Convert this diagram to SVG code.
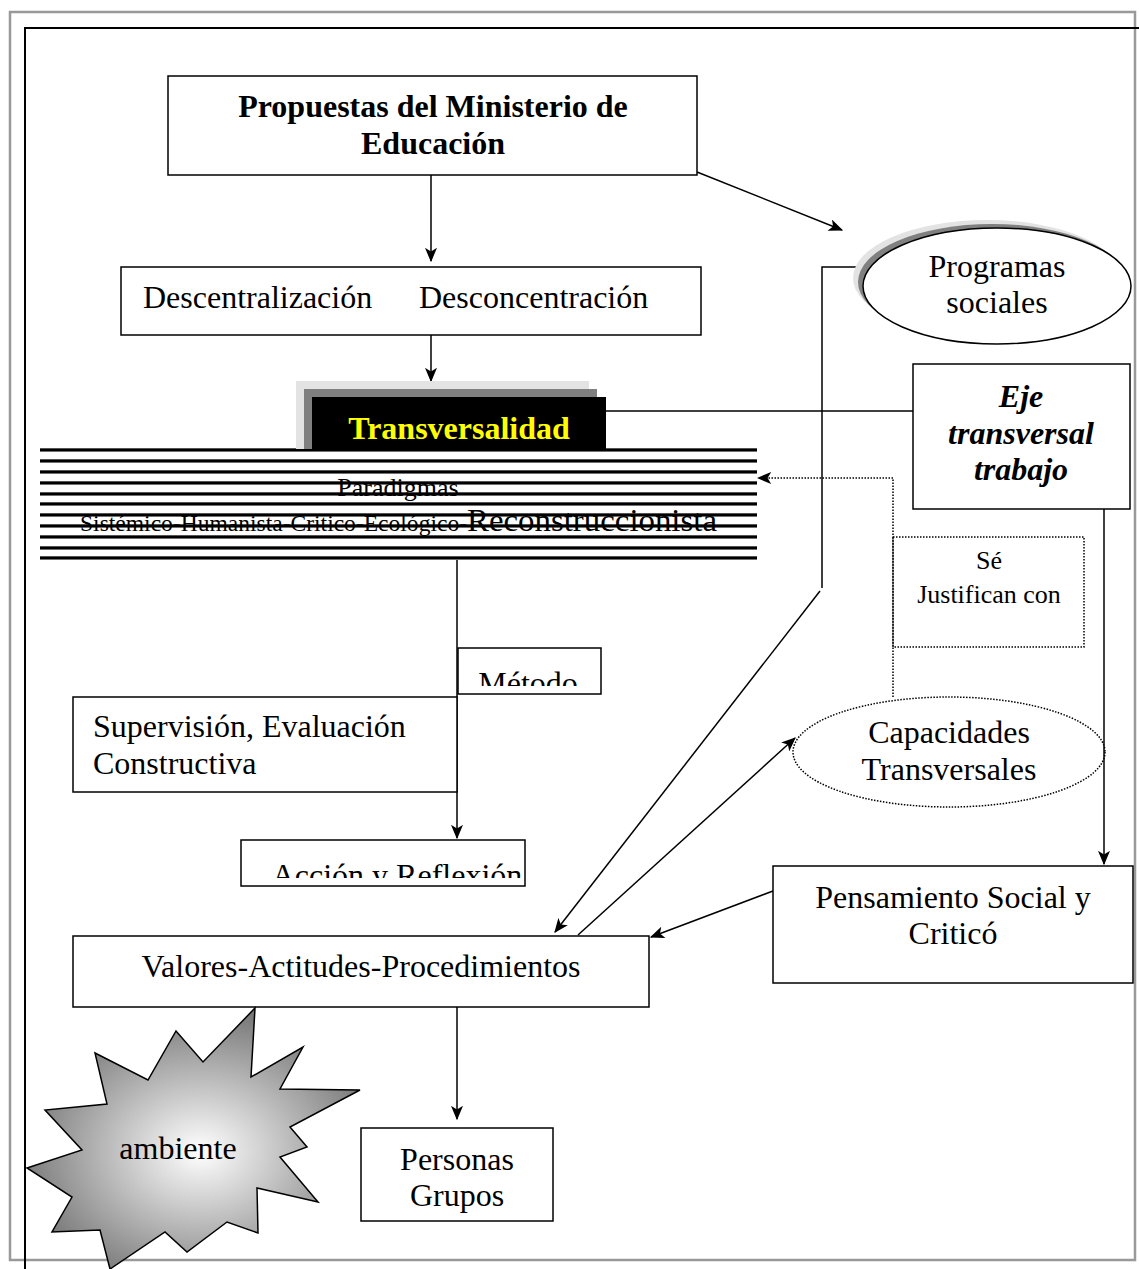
<svg xmlns="http://www.w3.org/2000/svg" width="1139" height="1269" viewBox="0 0 1139 1269">
<defs>
<style>
.t{font-family:"Liberation Serif","Times New Roman",serif;fill:#000;font-size:32px}
.box{fill:#fff;stroke:#000;stroke-width:1.5}
.ln{fill:none;stroke:#000;stroke-width:1.5}
.dot{fill:none;stroke:#000;stroke-width:1.5;stroke-dasharray:1.5 1.5}
</style>
<marker id="ah" viewBox="0 0 12 10" refX="11" refY="5" markerWidth="15" markerHeight="12" markerUnits="userSpaceOnUse" orient="auto">
<path d="M0,0 L12,5 L0,10 L3,5 Z" fill="#000"/>
</marker>
<radialGradient id="starg" cx="0.52" cy="0.55" r="0.55">
<stop offset="0" stop-color="#ffffff"/>
<stop offset="0.35" stop-color="#d0d0d0"/>
<stop offset="1" stop-color="#777777"/>
</radialGradient>
<linearGradient id="stripe" x1="0" y1="0" x2="0" y2="1">
<stop offset="0" stop-color="#909090"/>
<stop offset="0.3" stop-color="#000"/>
<stop offset="0.7" stop-color="#000"/>
<stop offset="1" stop-color="#c0c0c0"/>
</linearGradient>
<clipPath id="cm"><rect x="458" y="648" width="143" height="38"/></clipPath>
<clipPath id="ca"><rect x="241" y="840" width="284" height="38"/></clipPath>
</defs>
<rect width="1139" height="1269" fill="#fff"/>
<rect x="10" y="12" width="1125" height="1248" fill="none" stroke="#999" stroke-width="2.5"/>
<path d="M1139,28 H25 V1269" fill="none" stroke="#000" stroke-width="2"/>

<g id="connectors">
<line class="ln" x1="431" y1="175" x2="431" y2="261" marker-end="url(#ah)"/>
<line class="ln" x1="431" y1="335" x2="431" y2="381" marker-end="url(#ah)"/>
<line class="ln" x1="697" y1="172" x2="842" y2="230" marker-end="url(#ah)"/>
<line class="ln" x1="606" y1="411" x2="913" y2="411"/>
<polyline class="ln" points="862,267 822,267 822,588"/>
<line class="ln" x1="820" y1="591" x2="555" y2="932" marker-end="url(#ah)"/>
<line class="ln" x1="578" y1="935" x2="795" y2="738" marker-end="url(#ah)"/>
<line class="ln" x1="1104" y1="509" x2="1104" y2="864" marker-end="url(#ah)"/>
<line class="ln" x1="773" y1="891" x2="651" y2="937" marker-end="url(#ah)"/>
<line class="ln" x1="457" y1="557" x2="457" y2="838" marker-end="url(#ah)"/>
<line class="ln" x1="457" y1="1007" x2="457" y2="1119" marker-end="url(#ah)"/>
<polyline class="dot" points="893,697 893,478 758,478" marker-end="url(#ah)"/>
</g>

<g id="propuestas">
<rect class="box" x="168" y="76" width="529" height="99"/>
<text class="t" x="433" y="117" font-weight="bold" text-anchor="middle">Propuestas del Ministerio de</text>
<text class="t" x="433" y="154" font-weight="bold" text-anchor="middle">Educación</text>
</g>

<g id="descentralizacion">
<rect class="box" x="121" y="267" width="580" height="68"/>
<text class="t" x="143" y="308">Descentralización</text>
<text class="t" x="419" y="308">Desconcentración</text>
</g>

<g id="programas">
<ellipse cx="987" cy="278" rx="134" ry="58" fill="#e3e3e3"/>
<ellipse cx="992" cy="282" rx="134" ry="58" fill="#808080"/>
<ellipse cx="997" cy="286" rx="134" ry="58" fill="#fff" stroke="#000" stroke-width="1.5"/>
<text class="t" x="997" y="277" text-anchor="middle">Programas</text>
<text class="t" x="997" y="313" text-anchor="middle">sociales</text>
</g>

<g id="paradigmas">
<g fill="url(#stripe)">
<rect x="40" y="448" width="717" height="4"/>
<rect x="40" y="459" width="717" height="4"/>
<rect x="40" y="470" width="717" height="4"/>
<rect x="40" y="481" width="717" height="4"/>
<rect x="40" y="492" width="717" height="4"/>
<rect x="40" y="502" width="717" height="4"/>
<rect x="40" y="513" width="717" height="4"/>
<rect x="40" y="524" width="717" height="4"/>
<rect x="40" y="535" width="717" height="4"/>
<rect x="40" y="546" width="717" height="4"/>
<rect x="40" y="556" width="717" height="4"/>
</g>
<text class="t" x="398" y="496" style="font-size:26px" text-anchor="middle">Paradigmas</text>
<text class="t" y="531"><tspan x="80" style="font-size:24px" textLength="387" lengthAdjust="spacingAndGlyphs">Sistémico-Humanista-Critico-Ecológico-</tspan><tspan style="font-size:31px" textLength="250" lengthAdjust="spacingAndGlyphs">Reconstruccionista</tspan></text>
</g>

<g id="transversalidad">
<rect x="296" y="381" width="293" height="68" fill="#e3e3e3"/>
<rect x="304" y="389" width="293" height="60" fill="#808080"/>
<rect x="312" y="397" width="294" height="52" fill="#000"/>
<text class="t" x="459" y="439" font-weight="bold" text-anchor="middle" style="fill:#ffff00">Transversalidad</text>
</g>

<g id="eje">
<rect class="box" x="913" y="364" width="217" height="145"/>
<text class="t" x="1021" y="407" font-weight="bold" font-style="italic" text-anchor="middle">Eje</text>
<text class="t" x="1021" y="444" font-weight="bold" font-style="italic" text-anchor="middle">transversal</text>
<text class="t" x="1021" y="480" font-weight="bold" font-style="italic" text-anchor="middle">trabajo</text>
</g>

<g id="justifican">
<rect x="893" y="537" width="191" height="110" fill="#fff" class="dot"/>
<text class="t" x="989" y="569" style="font-size:26px" text-anchor="middle">Sé</text>
<text class="t" x="989" y="603" style="font-size:26px" text-anchor="middle">Justifican con</text>
</g>

<g id="capacidades">
<ellipse cx="949" cy="752" rx="156" ry="55" fill="#fff" class="dot"/>
<text class="t" x="949" y="743" text-anchor="middle">Capacidades</text>
<text class="t" x="949" y="780" text-anchor="middle">Transversales</text>
</g>

<g id="metodo">
<rect class="box" x="458" y="648" width="143" height="46"/>
<text class="t" x="528" y="694" text-anchor="middle" clip-path="url(#cm)">Método</text>
</g>

<g id="supervision">
<rect class="box" x="73" y="697" width="384" height="95"/>
<text class="t" x="93" y="737">Supervisión, Evaluación</text>
<text class="t" x="93" y="774">Constructiva</text>
</g>

<g id="accion">
<rect class="box" x="241" y="840" width="284" height="46"/>
<text class="t" x="397" y="886" text-anchor="middle" clip-path="url(#ca)">Acción y Reflexión</text>
</g>

<g id="pensamiento">
<rect class="box" x="773" y="866" width="360" height="117"/>
<text class="t" x="953" y="908" text-anchor="middle">Pensamiento Social y</text>
<text class="t" x="953" y="944" text-anchor="middle">Criticó</text>
</g>

<g id="valores">
<rect class="box" x="73" y="936" width="576" height="71"/>
<text class="t" x="361" y="977" text-anchor="middle">Valores-Actitudes-Procedimientos</text>
</g>

<g id="personas">
<rect class="box" x="361" y="1128" width="192" height="93"/>
<text class="t" x="457" y="1170" text-anchor="middle">Personas</text>
<text class="t" x="457" y="1206" text-anchor="middle">Grupos</text>
</g>

<g id="ambiente">
<polygon points="255,1008 251,1077 303,1047 280,1089 360,1090 290,1127 307,1147 280,1157 318,1202 257,1188 258,1233 227,1222 187,1252 165,1232 110,1269 100,1230 52,1232 72,1197 27,1168 82,1150 45,1110 107,1104 95,1053 148,1080 176,1031 203,1062" fill="url(#starg)" stroke="#000" stroke-width="1.5" stroke-linejoin="miter"/>
<text class="t" x="178" y="1159" text-anchor="middle">ambiente</text>
</g>
</svg>
